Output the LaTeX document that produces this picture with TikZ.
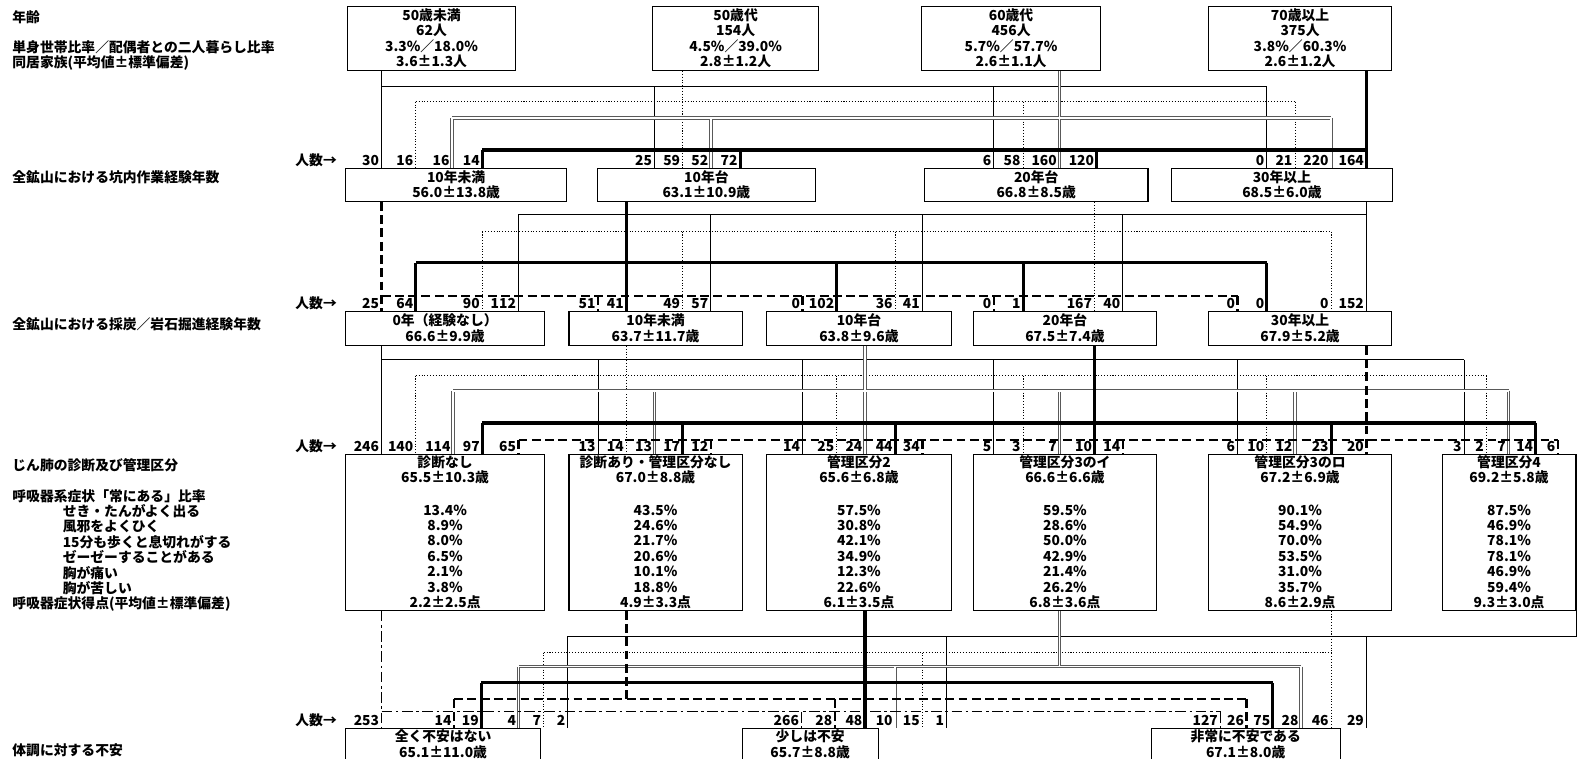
\documentclass[tikz,border=0pt]{standalone}
\usepackage{fontspec}
\setmainfont{Noto Sans CJK JP}
\usepackage{xcolor}
\definecolor{dblline}{gray}{0.35}
\usepackage{tikz}

\begin{document}
\begin{tikzpicture}[
  x=0.2mm, y=-0.2mm,
  font=\fontsize{7.8}{8.7}\selectfont\bfseries,
  box/.style={
    rectangle, draw, line width=0.6pt,
    inner sep=0pt, align=center
  },
  num/.style={anchor=base east, inner xsep=1.3pt, inner ysep=0pt},
  hdr/.style={anchor=west, inner sep=0pt},
  lnthin/.style={line width=0.55pt},
  lndot/.style={line width=0.6pt, densely dotted},
  lndbl/.style={draw=dblline, double=white, double distance=0.9pt, line width=0.5pt},
  lnthick/.style={line width=1.8pt},
  lndash/.style={line width=1.4pt, dash pattern=on 5pt off 2.5pt},
  lndashdot/.style={line width=0.55pt, dash pattern=on 6pt off 2pt on 1.5pt off 2pt}
]
\useasboundingbox (0,0) rectangle (1568,753);
\clip (0,0) rectangle (1568,753);

\node[hdr] (hAge) at (12,17) {年齢};
\node[hdr] (hLive) at (12,47) {単身世帯比率／配偶者との二人暮らし比率};
\node[hdr] (hFam) at (12,63) {同居家族(平均値±標準偏差)};
\node[hdr] (hPit) at (12,176) {全鉱山における坑内作業経験年数};
\node[hdr] (hCoal) at (12,322) {全鉱山における採炭／岩石掘進経験年数};
\node[hdr] (hDiag) at (12,462) {じん肺の診断及び管理区分};
\node[hdr] (hSym) at (12,493) {呼吸器系症状「常にある」比率};
\node[hdr] (hSymA) at (62,508) {せき・たんがよく出る};
\node[hdr] (hSymB) at (62,523) {風邪をよくひく};
\node[hdr] (hSymC) at (62,538) {15分も歩くと息切れがする};
\node[hdr] (hSymD) at (62,553) {ゼーゼーすることがある};
\node[hdr] (hSymE) at (62,569) {胸が痛い};
\node[hdr] (hSymF) at (62,584) {胸が苦しい};
\node[hdr] (hScore) at (12,600) {呼吸器症状得点(平均値±標準偏差)};
\node[hdr] (hAnx) at (12,745) {体調に対する不安};

\node[box, minimum width=167*0.2mm, minimum height=64*0.2mm] (t1) at (428.5,38) {50歳未満\\62人\\3.3\%／18.0\%\\3.6±1.3人};
\node[box, minimum width=165*0.2mm, minimum height=64*0.2mm] (t2) at (730.5,38) {50歳代\\154人\\4.5\%／39.0\%\\2.8±1.2人};
\node[box, minimum width=178*0.2mm, minimum height=64*0.2mm] (t3) at (1004,38) {60歳代\\456人\\5.7\%／57.7\%\\2.6±1.1人};
\node[box, minimum width=182*0.2mm, minimum height=64*0.2mm] (t4) at (1291,38) {70歳以上\\375人\\3.8\%／60.3\%\\2.6±1.2人};

\node[box, minimum width=220*0.2mm, minimum height=33*0.2mm] (r2a) at (453,183.5) {10年未満\\56.0±13.8歳};
\node[box, minimum width=217*0.2mm, minimum height=33*0.2mm] (r2b) at (701.5,183.5) {10年台\\63.1±10.9歳};
\node[box, minimum width=222*0.2mm, minimum height=33*0.2mm] (r2c) at (1029,183.5) {20年台\\66.8±8.5歳};
\node[box, minimum width=220*0.2mm, minimum height=33*0.2mm] (r2d) at (1273,183.5) {30年以上\\68.5±6.0歳};

\node[box, minimum width=198*0.2mm, minimum height=34*0.2mm] (r3a) at (442,326) {0年（経験なし）\\66.6±9.9歳};
\node[box, minimum width=172*0.2mm, minimum height=34*0.2mm] (r3b) at (651,326) {10年未満\\63.7±11.7歳};
\node[box, minimum width=184*0.2mm, minimum height=34*0.2mm] (r3c) at (853,326) {10年台\\63.8±9.6歳};
\node[box, minimum width=181*0.2mm, minimum height=34*0.2mm] (r3d) at (1057.5,326) {20年台\\67.5±7.4歳};
\node[box, minimum width=182*0.2mm, minimum height=34*0.2mm] (r3e) at (1291,326) {30年以上\\67.9±5.2歳};

\node[box, minimum width=198*0.2mm, minimum height=155*0.2mm] (r4a) at (442,528.5) {診断なし\\65.5±10.3歳\\[9.5pt]13.4\%\\8.9\%\\8.0\%\\6.5\%\\2.1\%\\3.8\%\\2.2±2.5点};
\node[box, minimum width=172*0.2mm, minimum height=155*0.2mm] (r4b) at (651,528.5) {診断あり・管理区分なし\\67.0±8.8歳\\[9.5pt]43.5\%\\24.6\%\\21.7\%\\20.6\%\\10.1\%\\18.8\%\\4.9±3.3点};
\node[box, minimum width=184*0.2mm, minimum height=155*0.2mm] (r4c) at (853,528.5) {管理区分2\\65.6±6.8歳\\[9.5pt]57.5\%\\30.8\%\\42.1\%\\34.9\%\\12.3\%\\22.6\%\\6.1±3.5点};
\node[box, minimum width=181*0.2mm, minimum height=155*0.2mm] (r4d) at (1057.5,528.5) {管理区分3のイ\\66.6±6.6歳\\[9.5pt]59.5\%\\28.6\%\\50.0\%\\42.9\%\\21.4\%\\26.2\%\\6.8±3.6点};
\node[box, minimum width=182*0.2mm, minimum height=155*0.2mm] (r4e) at (1291,528.5) {管理区分3のロ\\67.2±6.9歳\\[9.5pt]90.1\%\\54.9\%\\70.0\%\\53.5\%\\31.0\%\\35.7\%\\8.6±2.9点};
\node[box, minimum width=133*0.2mm, minimum height=155*0.2mm] (r4f) at (1498.5,528.5) {管理区分4\\69.2±5.8歳\\[9.5pt]87.5\%\\46.9\%\\78.1\%\\78.1\%\\46.9\%\\59.4\%\\9.3±3.0点};

\node[box, minimum width=194*0.2mm, minimum height=32*0.2mm] (r5a) at (440,739) {全く不安はない\\65.1±11.0歳};
\node[box, minimum width=135*0.2mm, minimum height=32*0.2mm] (r5b) at (804.5,739) {少しは不安\\65.7±8.8歳};
\node[box, minimum width=188*0.2mm, minimum height=32*0.2mm] (r5c) at (1237,739) {非常に不安である\\67.1±8.0歳};

\node[anchor=base west, inner sep=0pt] (nA) at (293,164) {人数→};
\node[anchor=base west, inner sep=0pt] (nB) at (293,306) {人数→};
\node[anchor=base west, inner sep=0pt] (nC) at (293,448) {人数→};
\node[anchor=base west, inner sep=0pt] (nD) at (293,720) {人数→};

\node[num] (c2a1) at (379,164) {30};
\node[num] (c2a2) at (413,164) {16};
\node[num] (c2a3) at (449,164) {16};
\node[num] (c2a4) at (479,164) {14};
\node[num] (c2b1) at (650,164) {25};
\node[num] (c2b2) at (678,164) {59};
\node[num] (c2b3) at (706,164) {52};
\node[num] (c2b4) at (735,164) {72};
\node[num] (c2c1) at (987,164) {6};
\node[num] (c2c2) at (1016,164) {58};
\node[num] (c2c3) at (1052,164) {160};
\node[num] (c2c4) at (1089,164) {120};
\node[num] (c2d1) at (1258,164) {0};
\node[num] (c2d2) at (1286,164) {21};
\node[num] (c2d3) at (1322,164) {220};
\node[num] (c2d4) at (1357,164) {164};

\node[num] (c3a1) at (379,306) {25};
\node[num] (c3a2) at (413,306) {64};
\node[num] (c3a3) at (479,306) {90};
\node[num] (c3a4) at (515,306) {112};
\node[num] (c3b1) at (594,306) {51};
\node[num] (c3b2) at (622,306) {41};
\node[num] (c3b3) at (678,306) {49};
\node[num] (c3b4) at (706,306) {57};
\node[num] (c3c1) at (797,306) {0};
\node[num] (c3c2) at (831,306) {102};
\node[num] (c3c3) at (889,306) {36};
\node[num] (c3c4) at (916,306) {41};
\node[num] (c3d1) at (987,306) {0};
\node[num] (c3d2) at (1016,306) {1};
\node[num] (c3d3) at (1087,306) {167};
\node[num] (c3d4) at (1115,306) {40};
\node[num] (c3e1) at (1229,306) {0};
\node[num] (c3e2) at (1258,306) {0};
\node[num] (c3e3) at (1322,306) {0};
\node[num] (c3e4) at (1357,306) {152};

\node[num] (c4a1) at (379,448) {246};
\node[num] (c4a2) at (413,448) {140};
\node[num] (c4a3) at (450,448) {114};
\node[num] (c4a4) at (479,448) {97};
\node[num] (c4a5) at (515,448) {65};
\node[num] (c4b1) at (594,448) {13};
\node[num] (c4b2) at (622,448) {14};
\node[num] (c4b3) at (650,448) {13};
\node[num] (c4b4) at (678,448) {17};
\node[num] (c4b5) at (706,448) {12};
\node[num] (c4c1) at (797,448) {14};
\node[num] (c4c2) at (831,448) {25};
\node[num] (c4c3) at (859,448) {24};
\node[num] (c4c4) at (889,448) {44};
\node[num] (c4c5) at (916,448) {34};
\node[num] (c4d1) at (987,448) {5};
\node[num] (c4d2) at (1016,448) {3};
\node[num] (c4d3) at (1052,448) {7};
\node[num] (c4d4) at (1087,448) {10};
\node[num] (c4d5) at (1115,448) {14};
\node[num] (c4e1) at (1229,448) {6};
\node[num] (c4e2) at (1258,448) {10};
\node[num] (c4e3) at (1286,448) {12};
\node[num] (c4e4) at (1322,448) {23};
\node[num] (c4e5) at (1357,448) {20};
\node[num] (c4f1) at (1454,448) {3};
\node[num] (c4f2) at (1476,448) {2};
\node[num] (c4f3) at (1498,448) {7};
\node[num] (c4f4) at (1525,448) {14};
\node[num] (c4f5) at (1547,448) {6};

\node[num] (c5a1) at (379,720) {253};
\node[num] (c5a2) at (451,720) {14};
\node[num] (c5a3) at (478,720) {19};
\node[num] (c5a4) at (515,720) {4};
\node[num] (c5a5) at (540,720) {7};
\node[num] (c5a6) at (564,720) {2};
\node[num] (c5b1) at (796,720) {266};
\node[num] (c5b2) at (829,720) {28};
\node[num] (c5b3) at (859,720) {48};
\node[num] (c5b4) at (889,720) {10};
\node[num] (c5b5) at (916,720) {15};
\node[num] (c5b6) at (940,720) {1};
\node[num] (c5c1) at (1212,720) {127};
\node[num] (c5c2) at (1238,720) {26};
\node[num] (c5c3) at (1264,720) {75};
\node[num] (c5c4) at (1292,720) {28};
\node[num] (c5c5) at (1322,720) {46};
\node[num] (c5c6) at (1357,720) {29};

\coordinate (busA1) at (0,86);
\coordinate (busA2) at (0,101);
\coordinate (busA3) at (0,117);
\coordinate (busA4) at (0,149);
\coordinate (busB1) at (0,213);
\coordinate (busB2) at (0,230);
\coordinate (busB3) at (0,261);
\coordinate (busB4) at (0,294);
\coordinate (busC1) at (0,357);
\coordinate (busC2) at (0,373);
\coordinate (busC3) at (0,388);
\coordinate (busC4) at (0,420);
\coordinate (busC5) at (0,437);
\coordinate (busD1) at (0,632);
\coordinate (busD2) at (0,648);
\coordinate (busD3) at (0,662);
\coordinate (busD4) at (0,678);
\coordinate (busD5) at (0,694);
\coordinate (busD6) at (0,707);

\draw[lnthin] (c2a1.east |- t1.south) -- (c2a1.east |- r2a.north)
  (c2a1.east |- busA1) -- (c2d1.east |- busA1)
  (c2b1.east |- busA1) -- (c2b1.east |- r2b.north)
  (c2c1.east |- busA1) -- (c2c1.east |- r2c.north)
  (c2d1.east |- busA1) -- (c2d1.east |- r2d.north);
\draw[lndot] (c2b2.east |- t2.south) -- (c2b2.east |- r2b.north)
  (c2a2.east |- busA2) -- (c2d2.east |- busA2)
  (c2a2.east |- busA2) -- (c2a2.east |- r2a.north)
  (c2c2.east |- busA2) -- (c2c2.east |- r2c.north)
  (c2d2.east |- busA2) -- (c2d2.east |- r2d.north);
\draw[lndbl] (c2c3.east |- t3.south) -- (c2c3.east |- r2c.north)
  (c2a3.east |- busA3) -- (c2d3.east |- busA3)
  (c2a3.east |- busA3) -- (c2a3.east |- r2a.north)
  (c2b3.east |- busA3) -- (c2b3.east |- r2b.north)
  (c2d3.east |- busA3) -- (c2d3.east |- r2d.north);
\draw[lnthick] (c2d4.east |- t4.south) -- (c2d4.east |- r2d.north)
  (c2a4.east |- busA4) -- (c2d4.east |- busA4)
  (c2a4.east |- busA4) -- (c2a4.east |- r2a.north)
  (c2b4.east |- busA4) -- (c2b4.east |- r2b.north)
  (c2c4.east |- busA4) -- (c2c4.east |- r2c.north);

\draw[lnthin] (c3e4.east |- r2d.south) -- (c3e4.east |- r3e.north)
  (c3a4.east |- busB1) -- (c3e4.east |- busB1)
  (c3a4.east |- busB1) -- (c3a4.east |- r3a.north)
  (c3b4.east |- busB1) -- (c3b4.east |- r3b.north)
  (c3c4.east |- busB1) -- (c3c4.east |- r3c.north)
  (c3d4.east |- busB1) -- (c3d4.east |- r3d.north);
\draw[lndot] (c3d3.east |- r2c.south) -- (c3d3.east |- r3d.north)
  (c3a3.east |- busB2) -- (c3e3.east |- busB2)
  (c3a3.east |- busB2) -- (c3a3.east |- r3a.north)
  (c3b3.east |- busB2) -- (c3b3.east |- r3b.north)
  (c3c3.east |- busB2) -- (c3c3.east |- r3c.north)
  (c3e3.east |- busB2) -- (c3e3.east |- r3e.north);
\draw[lnthick] (c3b2.east |- r2b.south) -- (c3b2.east |- r3b.north)
  (c3a2.east |- busB3) -- (c3e2.east |- busB3)
  (c3a2.east |- busB3) -- (c3a2.east |- r3a.north)
  (c3c2.east |- busB3) -- (c3c2.east |- r3c.north)
  (c3d2.east |- busB3) -- (c3d2.east |- r3d.north)
  (c3e2.east |- busB3) -- (c3e2.east |- r3e.north);
\draw[lndash] (c3a1.east |- r2a.south) -- (c3a1.east |- r3a.north)
  (c3a1.east |- busB4) -- (c3e1.east |- busB4)
  (c3b1.east |- busB4) -- (c3b1.east |- r3b.north)
  (c3c1.east |- busB4) -- (c3c1.east |- r3c.north)
  (c3d1.east |- busB4) -- (c3d1.east |- r3d.north)
  (c3e1.east |- busB4) -- (c3e1.east |- r3e.north);

\draw[lnthin] (c4a1.east |- r3a.south) -- (c4a1.east |- r4a.north)
  (c4a1.east |- busC1) -- (c4f1.east |- busC1)
  (c4b1.east |- busC1) -- (c4b1.east |- r4b.north)
  (c4c1.east |- busC1) -- (c4c1.east |- r4c.north)
  (c4d1.east |- busC1) -- (c4d1.east |- r4d.north)
  (c4e1.east |- busC1) -- (c4e1.east |- r4e.north)
  (c4f1.east |- busC1) -- (c4f1.east |- r4f.north);
\draw[lndot] (c4b2.east |- r3b.south) -- (c4b2.east |- r4b.north)
  (c4a2.east |- busC2) -- (c4f2.east |- busC2)
  (c4a2.east |- busC2) -- (c4a2.east |- r4a.north)
  (c4c2.east |- busC2) -- (c4c2.east |- r4c.north)
  (c4d2.east |- busC2) -- (c4d2.east |- r4d.north)
  (c4e2.east |- busC2) -- (c4e2.east |- r4e.north)
  (c4f2.east |- busC2) -- (c4f2.east |- r4f.north);
\draw[lndbl] (c4c3.east |- r3c.south) -- (c4c3.east |- r4c.north)
  (c4a3.east |- busC3) -- (c4f3.east |- busC3)
  (c4a3.east |- busC3) -- (c4a3.east |- r4a.north)
  (c4b3.east |- busC3) -- (c4b3.east |- r4b.north)
  (c4d3.east |- busC3) -- (c4d3.east |- r4d.north)
  (c4e3.east |- busC3) -- (c4e3.east |- r4e.north)
  (c4f3.east |- busC3) -- (c4f3.east |- r4f.north);
\draw[lnthick] (c4d4.east |- r3d.south) -- (c4d4.east |- r4d.north)
  (c4a4.east |- busC4) -- (c4f4.east |- busC4)
  (c4a4.east |- busC4) -- (c4a4.east |- r4a.north)
  (c4b4.east |- busC4) -- (c4b4.east |- r4b.north)
  (c4c4.east |- busC4) -- (c4c4.east |- r4c.north)
  (c4e4.east |- busC4) -- (c4e4.east |- r4e.north)
  (c4f4.east |- busC4) -- (c4f4.east |- r4f.north);
\draw[lndash] (c4e5.east |- r3e.south) -- (c4e5.east |- r4e.north)
  (c4a5.east |- busC5) -- (c4f5.east |- busC5)
  (c4a5.east |- busC5) -- (c4a5.east |- r4a.north)
  (c4b5.east |- busC5) -- (c4b5.east |- r4b.north)
  (c4c5.east |- busC5) -- (c4c5.east |- r4c.north)
  (c4d5.east |- busC5) -- (c4d5.east |- r4d.north)
  (c4f5.east |- busC5) -- (c4f5.east |- r4f.north);

\draw[lnthin] (r4f.south east) -- (r4f.south east |- busD1)
  (c5a6.east |- busD1) -- (r4f.south east |- busD1)
  (c5a6.east |- busD1) -- (c5a6.east |- r5a.north)
  (c5b6.east |- busD1) -- (c5b6.east |- r5b.north)
  (c5c6.east |- busD1) -- (c5c6.east |- r5c.north);
\draw[lndot] (c5c5.east |- r4e.south) -- (c5c5.east |- r5c.north)
  (c5a5.east |- busD2) -- (c5c5.east |- busD2)
  (c5a5.east |- busD2) -- (c5a5.east |- r5a.north)
  (c5b5.east |- busD2) -- (c5b5.east |- r5b.north);
\draw[lndbl] (c4d3.east |- r4d.south) -- (c4d3.east |- busD3)
  (c5a4.east |- busD3) -- (c5c4.east |- busD3)
  (c5a4.east |- busD3) -- (c5a4.east |- r5a.north)
  (c5b4.east |- busD3) -- (c5b4.east |- r5b.north)
  (c5c4.east |- busD3) -- (c5c4.east |- r5c.north);
\draw[lnthick] (c5b3.east |- r4c.south) -- (c5b3.east |- r5b.north)
  (c5a3.east |- busD4) -- (c5c3.east |- busD4)
  (c5a3.east |- busD4) -- (c5a3.east |- r5a.north)
  (c5c3.east |- busD4) -- (c5c3.east |- r5c.north);
\draw[lndash] (c4b2.east |- r4b.south) -- (c4b2.east |- busD5)
  (c5a2.east |- busD5) -- (c5c2.east |- busD5)
  (c5a2.east |- busD5) -- (c5a2.east |- r5a.north)
  (c5b2.east |- busD5) -- (c5b2.east |- r5b.north)
  (c5c2.east |- busD5) -- (c5c2.east |- r5c.north);
\draw[lndashdot] (c5a1.east |- r4a.south) -- (c5a1.east |- r5a.north)
  (c5a1.east |- busD6) -- (c5c1.east |- busD6)
  (c5b1.east |- busD6) -- (c5b1.east |- r5b.north)
  (c5c1.east |- busD6) -- (c5c1.east |- r5c.north);
\end{tikzpicture}
\end{document}
